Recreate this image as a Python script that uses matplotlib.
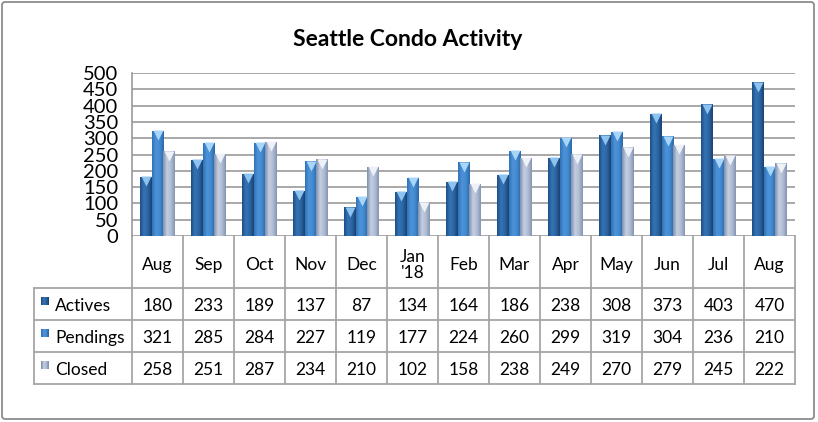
import numpy as np
import matplotlib
matplotlib.use('Agg')
import matplotlib.pyplot as plt
from matplotlib.transforms import blended_transform_factory
from matplotlib.patches import FancyBboxPatch
from matplotlib.colors import LinearSegmentedColormap

# data
months = ['Aug', 'Sep', 'Oct', 'Nov', 'Dec', "Jan\n'18", 'Feb', 'Mar',
          'Apr', 'May', 'Jun', 'Jul', 'Aug']
actives = [180, 233, 189, 137, 87, 134, 164, 186, 238, 308, 373, 403, 470]
pendings = [321, 285, 284, 227, 119, 177, 224, 260, 299, 319, 304, 236, 210]
closed = [258, 251, 287, 234, 210, 102, 158, 238, 249, 270, 279, 245, 222]
series_names = ['Actives', 'Pendings', 'Closed']

# shading stops (left edge -> right edge) and cap colour per series
shades = [['#1f4f86', '#3474b6', '#2c65a2', '#1a4374'],
          ['#2f72b8', '#4e93d8', '#428ad0', '#2c69aa'],
          ['#8090ad', '#c3cee0', '#b0bdd5', '#8595b2']]
caps = ['#8ec3f0', '#a8d6fa', '#eef2f8']

W, H = 818, 422
plt.rcParams['font.family'] = ['Lato', 'DejaVu Sans']
fig = plt.figure(figsize=(W / 100, H / 100), dpi=100)


def px_box(x0, y0, x1, y1):
    '''pixel box, top-left origin -> figure fraction rect'''
    return [x0 / W, 1 - y1 / H, (x1 - x0) / W, (y1 - y0) / H]


# overlay in pixel coords for frame / table
ov = fig.add_axes([0, 0, 1, 1], zorder=0)
ov.set_xlim(0, W)
ov.set_ylim(H, 0)
ov.axis('off')

ax = fig.add_axes(px_box(132, 73, 795, 236), zorder=1)
ax.patch.set_alpha(0)

n = len(months)
x = np.arange(n)
bw = 0.225
grid_c = '#9a9a9a'

for k, vals in enumerate([actives, pendings, closed]):
    cmap = LinearSegmentedColormap.from_list(f's{k}', shades[k])
    bars = ax.bar(x + (k - 1) * bw, vals, bw, color='none', zorder=3)
    grad = np.linspace(0, 1, 32).reshape(1, -1)
    for b in bars:
        x0, w, h = b.get_x(), b.get_width(), b.get_height()
        ax.imshow(grad, extent=[x0, x0 + w, 0, h], aspect='auto',
                  cmap=cmap, zorder=3, interpolation='bilinear')
    ax.plot(x + (k - 1) * bw, np.array(vals) - 12, 'v', ms=7,
            color=caps[k], mec='none', zorder=4)

ax.set_xlim(-0.5, n - 0.5)
ax.set_ylim(0, 500)
ax.set_aspect('auto')
ax.set_yticks(range(0, 501, 50))
ax.set_xticks([])
ax.yaxis.grid(True, color=grid_c, lw=1.2, zorder=0)
ax.set_axisbelow(True)
for s in ['top', 'right', 'bottom']:
    ax.spines[s].set_visible(False)
ax.spines['left'].set_color(grid_c)
ax.spines['left'].set_linewidth(1.2)
ax.tick_params(axis='y', length=0, pad=10, labelsize=14.5)

# title
ov.text(408, 40, 'Seattle Condo Activity', ha='center', va='center',
        fontsize=16.5, fontweight='bold')

# outer frame
ov.add_patch(FancyBboxPatch((2, 2), 812, 417, boxstyle='round,pad=0,rounding_size=3',
                            fc='none', ec='#8c8c8c', lw=1.3))

# data table under the plot
tr = blended_transform_factory(ax.transData, ov.transData)
row_y = [236, 288, 320, 352, 384]
lc = '#a6a6a6'
for b in np.arange(n + 1) - 0.5:
    ov.plot([b, b], [row_y[0], row_y[-1]], color=lc, lw=1.3, transform=tr,
            clip_on=False)
for yy in row_y[1:]:
    ov.plot([34, 132], [yy, yy], color=lc, lw=1.3, clip_on=False)
    ov.plot([-0.5, n - 0.5], [yy, yy], color=lc, lw=1.3, transform=tr,
            clip_on=False)
ov.plot([34, 34], [row_y[1], row_y[-1]], color=lc, lw=1.3, clip_on=False)

for i, m in enumerate(months):
    ov.text(i, (row_y[0] + row_y[1]) / 2 + 3, m, ha='center', va='center',
            fontsize=12.5, linespacing=1.0, transform=tr)

for r, (name, vals) in enumerate(zip(series_names, [actives, pendings, closed])):
    yc = (row_y[r + 1] + row_y[r + 2]) / 2 + 2
    cmap = LinearSegmentedColormap.from_list(f'k{r}', shades[r])
    ov.imshow(np.linspace(0, 1, 8).reshape(1, -1), extent=[41, 49, yc - 1, yc - 9],
              cmap=cmap, aspect='auto', zorder=2)
    ov.text(55, yc, name, ha='left', va='center', fontsize=12.5)
    for i, v in enumerate(vals):
        ov.text(i, yc, str(v), ha='center', va='center', fontsize=12.5,
                transform=tr)
ov.set_xlim(0, W)
ov.set_ylim(H, 0)

fig.savefig('out.png', dpi=100)
